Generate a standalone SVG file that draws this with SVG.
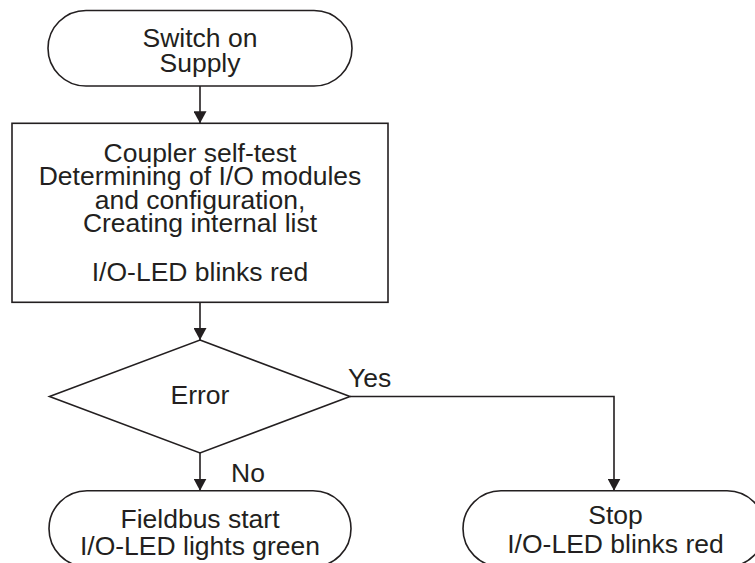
<svg xmlns="http://www.w3.org/2000/svg" width="755" height="563" viewBox="0 0 755 563">
<defs>
<style>
.shape{fill:#ffffff;stroke:#231f20;stroke-width:1.6}
.conn{fill:none;stroke:#231f20;stroke-width:1.6}
text{font-family:"Liberation Sans",Arial,sans-serif;font-size:26.5px;fill:#231f20}
.c{text-anchor:middle}
</style>
<marker id="arr" markerUnits="userSpaceOnUse" markerWidth="13" markerHeight="13" refX="12" refY="6.5" orient="auto">
<path d="M0,0 L12,6.5 L0,13 z" fill="#231f20"/>
</marker>
</defs>
<rect width="755" height="563" fill="#ffffff"/>
<g id="connectors">
<path class="conn" d="M200,86 L200,123.3" marker-end="url(#arr)"/>
<path class="conn" d="M200,302.3 L200,340" marker-end="url(#arr)"/>
<path class="conn" d="M200,453 L200,490.7" marker-end="url(#arr)"/>
<path class="conn" d="M350,396.5 L614,396.5 L614,490.7" marker-end="url(#arr)"/>
<text x="348" y="386.5">Yes</text>
<text x="231" y="481.5">No</text>
</g>
<g id="start">
<rect class="shape" x="48" y="10.5" width="304" height="75.5" rx="38" ry="38"/>
<text class="c" x="200" y="46.5">Switch on</text>
<text class="c" x="200" y="71.5">Supply</text>
</g>
<g id="selftest">
<rect class="shape" x="12" y="123.3" width="376" height="179"/>
<text class="c" x="200" y="161.5">Coupler self-test</text>
<text class="c" x="200" y="185">Determining of I/O modules</text>
<text class="c" x="200" y="208.5">and configuration,</text>
<text class="c" x="200" y="232">Creating internal list</text>
<text class="c" x="200" y="281">I/O-LED blinks red</text>
</g>
<g id="error">
<polygon class="shape" points="200,340 350,396.5 200,453 49.5,396.5"/>
<text class="c" x="200" y="404">Error</text>
</g>
<g id="fieldbus">
<rect class="shape" x="49" y="490.7" width="302" height="76" rx="38" ry="38"/>
<text class="c" x="200" y="528">Fieldbus start</text>
<text class="c" x="200" y="554.5">I/O-LED lights green</text>
</g>
<g id="stop">
<rect class="shape" x="463" y="490.7" width="302" height="76" rx="38" ry="38"/>
<text class="c" x="615.5" y="524">Stop</text>
<text class="c" x="615.5" y="552.5">I/O-LED blinks red</text>
</g>
</svg>
